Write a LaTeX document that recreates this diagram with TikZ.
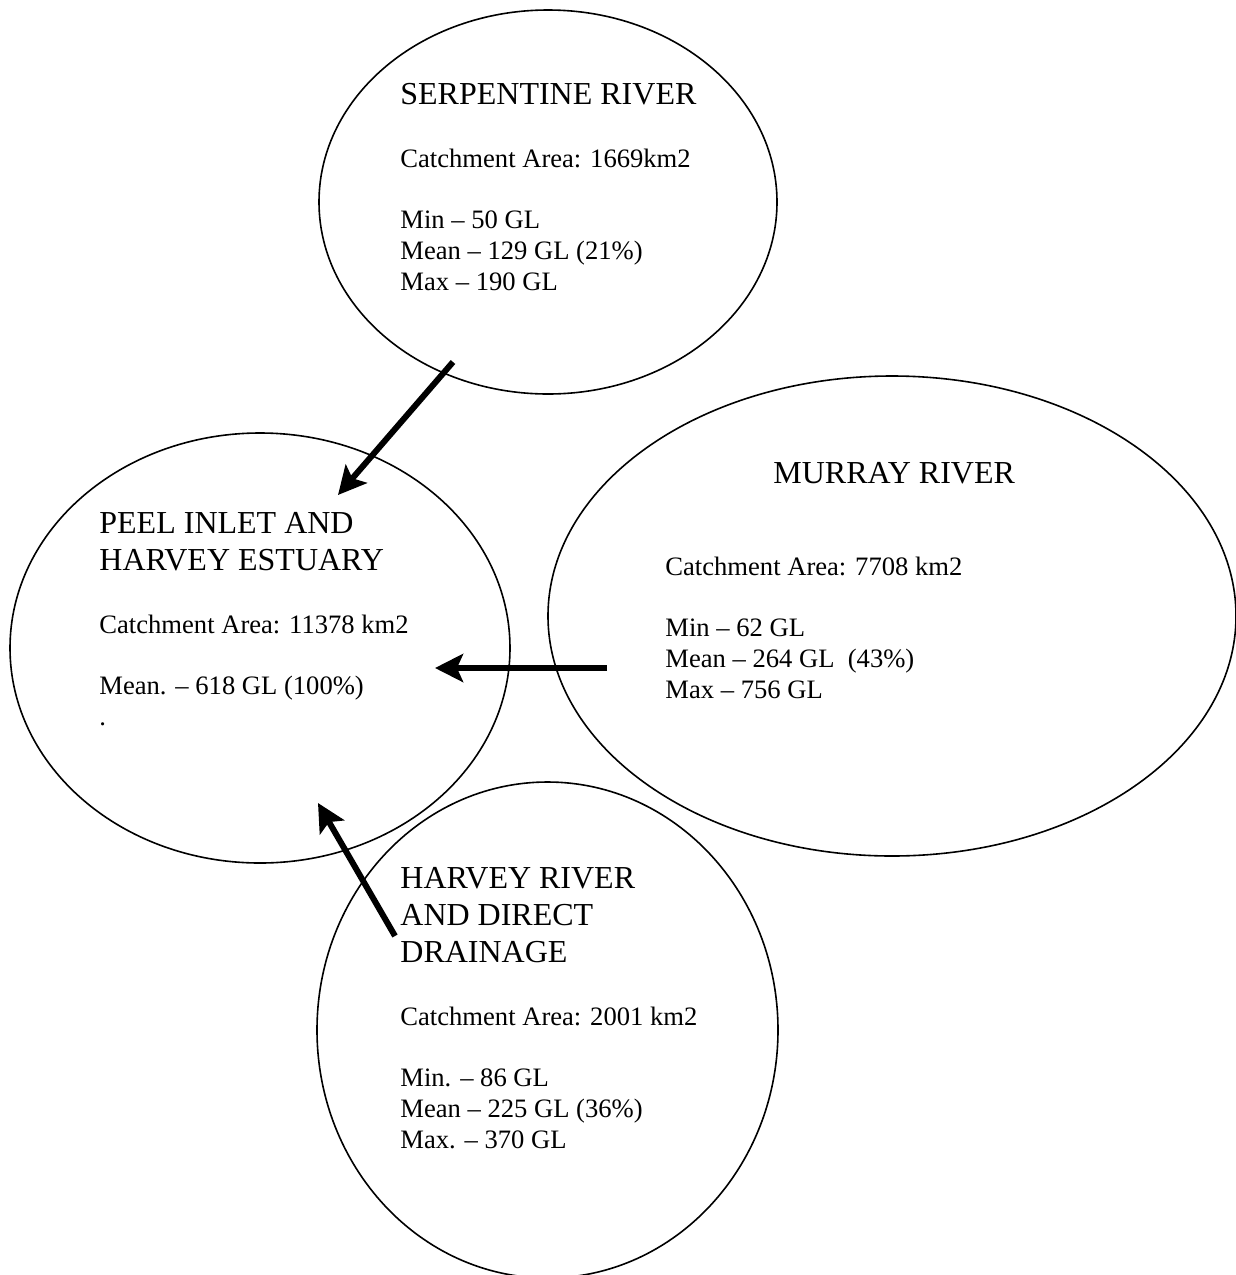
\documentclass[tikz,border=0pt]{standalone}
\usepackage{fontspec}
\setmainfont{Liberation Serif}
\usetikzlibrary{shapes.geometric, arrows.meta}
\tikzstyle{basin} = [ellipse, draw=black, line width=0.8pt, inner sep=0pt]
\tikzstyle{heading} = [anchor=base west, inner sep=0pt, align=left, font=\fontsize{16}{18.5}\selectfont]
\tikzstyle{details} = [anchor=base west, inner sep=0pt, align=left, font=\fontsize{13.3}{15.5}\selectfont]
\tikzstyle{arrow} = [line width=3pt, -{Stealth[length=14pt, width=14pt, inset=3pt]}]

\begin{document}
\begin{tikzpicture}[x=0.5pt, y=-0.5pt]

  \useasboundingbox (0,0) rectangle (1236,1275);

  \node (serp) [basin, minimum width=229pt, minimum height=192pt] at (548,202) {};
  \node (peel) [basin, minimum width=250pt, minimum height=215pt] at (260,648) {};
  \node (murray) [basin, minimum width=344pt, minimum height=240pt] at (892,616) {};
  \node (harvey) [basin, minimum width=230.5pt, minimum height=248pt] at (547.5,1030) {};

  % multi-line nodes sit on the baseline of their last line
  \node (serptitle) [heading] at (400,104) {SERPENTINE RIVER};
  \node (serptext) [details] at (400,290) {Catchment Area: 1669km2\\[15pt]Min – 50 GL\\Mean – 129 GL (21\%)\\Max – 190 GL};

  \node (peeltitle) [heading] at (99,570) {PEEL INLET AND\\HARVEY ESTUARY};
  \node (peeltext) [details] at (99,725) {Catchment Area: 11378 km2\\[15pt]Mean. – 618 GL (100\%)\\.};

  \node (murraytitle) [heading] at (773,483) {MURRAY RIVER};
  \node (murraytext) [details] at (665,698) {Catchment Area: 7708 km2\\[15pt]Min – 62 GL\\Mean – 264 GL~ (43\%)\\Max – 756 GL};

  \node (harveytitle) [heading] at (400,962) {HARVEY RIVER\\AND DIRECT\\DRAINAGE};
  \node (harveytext) [details] at (400,1148) {Catchment Area: 2001 km2\\[15pt]Min. – 86 GL\\Mean – 225 GL (36\%)\\Max. – 370 GL};

  \coordinate (serpout) at (453,362);
  \coordinate (serpin) at (338,495);
  \coordinate (murrayout) at (607,668);
  \coordinate (murrayin) at (435,668);
  \coordinate (harveyout) at (395,936);
  \coordinate (harveyin) at (318,803);

  \draw [arrow] (serpout) -- (serpin);
  \draw [arrow] (murrayout) -- (murrayin);
  \draw [arrow] (harveyout) -- (harveyin);

\end{tikzpicture}
\end{document}
